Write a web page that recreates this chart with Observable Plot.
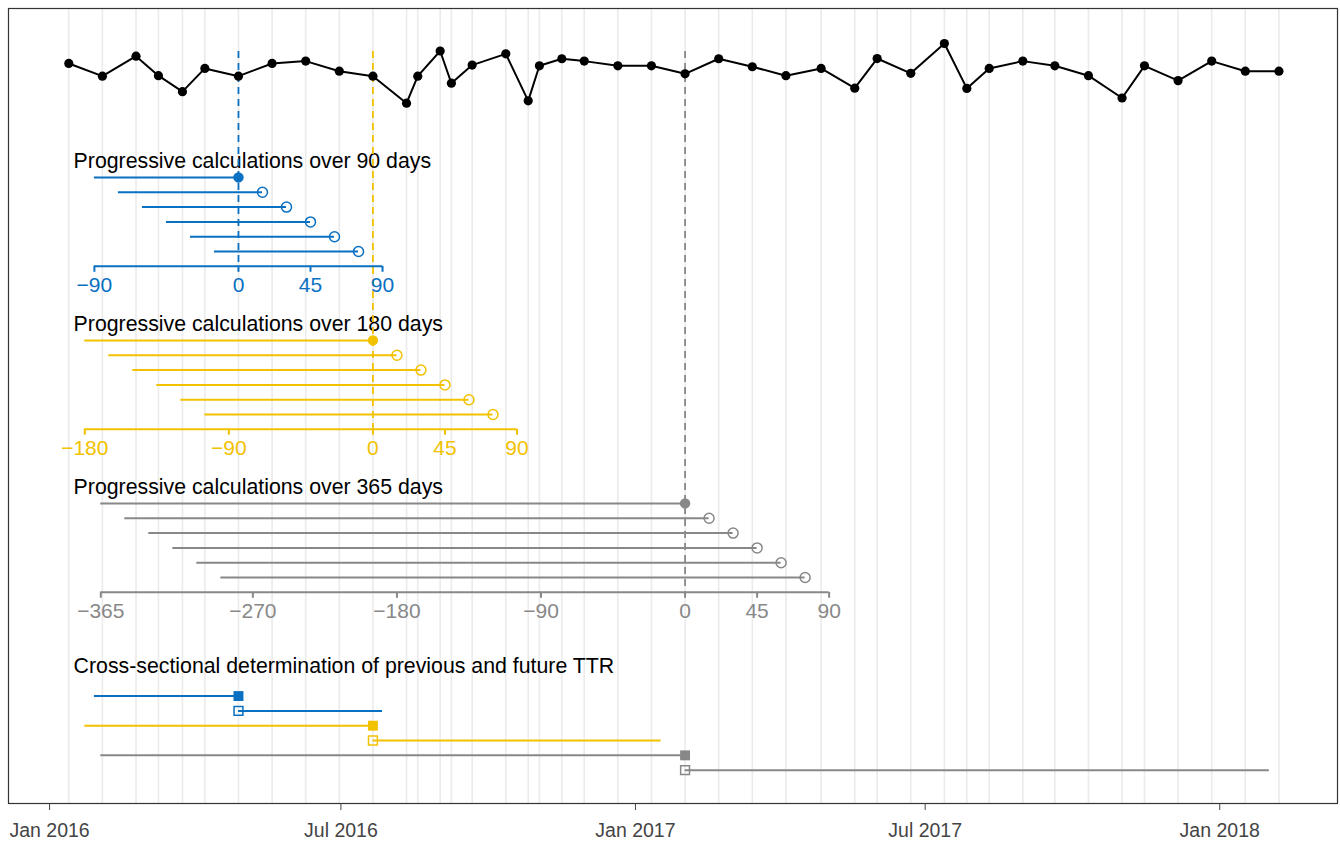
<!DOCTYPE html>
<html>
<head>
<meta charset="utf-8">
<script src="https://cdn.jsdelivr.net/npm/d3@7"></script>
<script src="https://cdn.jsdelivr.net/npm/@observablehq/plot@0.6"></script>
<style>
  body { margin: 0; background: #fff; }
  #chart svg { display: block; }
</style>
</head>
<body>
<div id="chart"></div>
<script>
// ---------------- data ----------------
const inrDates = [
  "2016-01-13","2016-02-03","2016-02-24","2016-03-09","2016-03-24","2016-04-07","2016-04-28",
  "2016-05-19","2016-06-09","2016-06-30","2016-07-21","2016-08-11","2016-08-18","2016-09-01",
  "2016-09-08","2016-09-21","2016-10-12","2016-10-26","2016-11-02","2016-11-16","2016-11-30",
  "2016-12-21","2017-01-11","2017-02-01","2017-02-22","2017-03-15","2017-04-05","2017-04-27",
  "2017-05-18","2017-06-01","2017-06-22","2017-07-13","2017-07-27","2017-08-10","2017-08-31",
  "2017-09-20","2017-10-11","2017-11-01","2017-11-15","2017-12-06","2017-12-27","2018-01-17",
  "2018-02-07"
];
const inrValues = [
  3.03, 2.49, 3.34, 2.51, 1.83, 2.82, 2.49,
  3.03, 3.13, 2.70, 2.49, 1.34, 2.49, 3.56,
  2.19, 2.96, 3.44, 1.44, 2.93, 3.23, 3.13,
  2.93, 2.93, 2.59, 3.23, 2.89, 2.51, 2.82,
  1.98, 3.24, 2.61, 3.88, 1.97, 2.82, 3.13,
  2.93, 2.51, 1.56, 2.93, 2.30, 3.13, 2.70,
  2.70
];
const windowDays = [90, 180, 365];
const windowColors = ["#0A70C2", "#F2C100", "#888888"];
const anchorDates = ["2016-04-28", "2016-07-21", "2017-02-01"];
const progressiveOffsets = [0, 15, 30, 45, 60, 75];
const axisTicks = [
  [-90, 0, 45, 90],
  [-180, -90, 0, 45, 90],
  [-365, -270, -180, -90, 0, 45, 90]
];
const axisEndDay = 90;
const sectionTitles = [
  "Progressive calculations over 90 days",
  "Progressive calculations over 180 days",
  "Progressive calculations over 365 days"
];
const crossTitle = "Cross-sectional determination of previous and future TTR";
const titleDate = "2016-01-16";

// ---------------- layout (rows, top to bottom) ----------------
const sectionFirstRow = [0, 11, 22];
const crossFirstRow = 35;
const titleRowOffset = -1.12;
const crossTitleRow = 33.0;
const dashTopRow = -8.5;
const tickLen = 0.4;
const inrRow = v => -6.85 - (v - 2.5) * 1.586;

// ---------------- build tables ----------------
const parse = d3.utcParse("%Y-%m-%d");
const off = (d, n) => d3.utcDay.offset(d, n);

const inr = inrDates.map((d, i) => ({date: parse(d), row: inrRow(inrValues[i])}));

const sections = windowDays.map((w, i) => ({
  w, color: windowColors[i], anchor: parse(anchorDates[i]),
  row0: sectionFirstRow[i], axisRow: sectionFirstRow[i] + progressiveOffsets.length,
  title: sectionTitles[i]
}));

const segs = sections.flatMap(s => progressiveOffsets.map((k, j) => ({
  x1: off(s.anchor, k - s.w), x2: off(s.anchor, k), row: s.row0 + j, color: s.color, filled: j === 0
})));

const axisLines = sections.map(s => ({x1: off(s.anchor, -s.w), x2: off(s.anchor, axisEndDay), row: s.axisRow, color: s.color}));
const axisTickData = sections.flatMap((s, i) => axisTicks[i].map(t => ({
  x: off(s.anchor, t), row: s.axisRow, color: s.color, label: t < 0 ? "\u2212" + Math.abs(t) : String(t)
})));

const cross = sections.flatMap((s, i) => [
  {x1: off(s.anchor, -s.w), x2: s.anchor, row: crossFirstRow + 2 * i, color: s.color, past: true, sq: s.anchor},
  {x1: s.anchor, x2: off(s.anchor, s.w), row: crossFirstRow + 2 * i + 1, color: s.color, past: false, sq: s.anchor}
]);

const titles = sections.map(s => ({x: parse(titleDate), row: s.row0 + titleRowOffset, text: s.title}))
  .concat([{x: parse(titleDate), row: crossTitleRow, text: crossTitle}]);

// ---------------- plot ----------------
const chart = Plot.plot({
  width: 1340,
  height: 841,
  marginLeft: 8,
  marginRight: 3,
  marginTop: 8,
  marginBottom: 38,
  style: {fontFamily: "'Liberation Sans', Arial, Helvetica, sans-serif", fontSize: "20px", background: "#fff"},
  x: {type: "utc", domain: [new Date("2015-12-06T08:00Z"), new Date("2018-03-15T14:00Z")]},
  y: {domain: [-11.4, 42.25], reverse: true, axis: null},
  color: {type: "identity"},
  marks: [
    Plot.ruleX(inr, {x: "date", stroke: "#ebebeb", strokeWidth: 1.6}),
    Plot.text(titles, {x: "x", y: "row", text: "text", textAnchor: "start", lineAnchor: "middle", fill: "#000", fontSize: 21.3}),
    Plot.ruleX(sections, {x: "anchor", y1: dashTopRow, y2: "axisRow", stroke: "color", strokeWidth: 1.8, strokeDasharray: "7,5"}),
    Plot.line(inr, {x: "date", y: "row", stroke: "#000", strokeWidth: 2}),
    Plot.dot(inr, {x: "date", y: "row", r: 4.6, fill: "#000"}),
    Plot.ruleY(segs, {x1: "x1", x2: "x2", y: "row", stroke: "color", strokeWidth: 2}),
    Plot.dot(segs.filter(d => d.filled), {x: "x2", y: "row", r: 5.2, fill: "color"}),
    Plot.dot(segs.filter(d => !d.filled), {x: "x2", y: "row", r: 5, stroke: "color", fill: "none", strokeWidth: 1.5}),
    Plot.ruleY(axisLines, {x1: "x1", x2: "x2", y: "row", stroke: "color", strokeWidth: 2}),
    Plot.ruleX(axisTickData, {x: "x", y1: "row", y2: d => d.row + tickLen, stroke: "color", strokeWidth: 2}),
    Plot.text(axisTickData, {x: "x", y: "row", dy: 19, text: "label", fill: "color", fontSize: 21, lineAnchor: "middle"}),
    Plot.ruleY(cross, {x1: "x1", x2: "x2", y: "row", stroke: "color", strokeWidth: 2}),
    Plot.dot(cross.filter(d => d.past), {x: "sq", y: "row", symbol: "square", r: 5.6, fill: "color"}),
    Plot.dot(cross.filter(d => !d.past), {x: "sq", y: "row", symbol: "square", r: 5, stroke: "color", fill: "none", strokeWidth: 1.5}),
    Plot.frame({stroke: "#333", strokeWidth: 1.2}),
    Plot.axisX({ticks: d3.utcMonth.every(6), tickFormat: d3.utcFormat("%b %Y"), tickSize: 7, tickPadding: 13, fontSize: 19.5, color: "#444"})
  ]
});
document.getElementById("chart").appendChild(chart);
</script>
</body>
</html>
